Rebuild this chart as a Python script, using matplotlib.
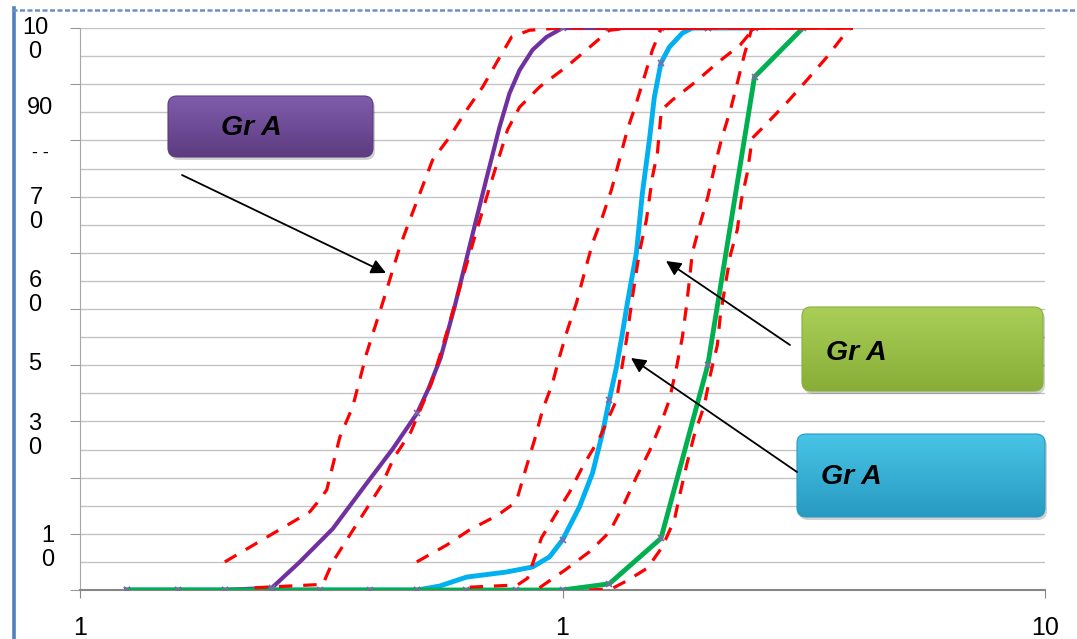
import numpy as np
import matplotlib
matplotlib.use("Agg")
import matplotlib.pyplot as plt
from matplotlib.patches import FancyBboxPatch
from matplotlib.ticker import MultipleLocator, NullLocator
from matplotlib.lines import Line2D

plt.rcParams["font.family"] = ["Liberation Sans", "DejaVu Sans"]

# ---- sieve openings (mm) ----
SIEVES = [0.125, 0.16, 0.2, 0.25, 0.315, 0.4, 0.5, 0.63, 0.8, 1.0, 1.25, 1.6, 2.0, 2.5, 3.15]

# ---- grading curves, % passing ----
purple_x = [0.125, 0.16, 0.2, 0.25, 0.2855, 0.3341, 0.3929, 0.4447, 0.5, 0.528, 0.5589,
            0.5976, 0.6511, 0.6961, 0.7406, 0.7767, 0.8147, 0.8667, 0.9266, 1.0,
            1.25, 1.6, 2.0]
purple_y = [0, 0, 0, 0.4, 5.0, 10.9, 19.0, 25.1, 31.5, 35.9, 41.3,
            50.4, 63.3, 73.3, 82.4, 88.4, 92.5, 96.1, 98.4, 100,
            100, 100, 100]

cyan_x = [0.125, 0.5, 0.5563, 0.6329, 0.7658, 0.8667, 0.9399, 1.0, 1.0844, 1.154, 1.21,
          1.25, 1.294, 1.331, 1.363, 1.423, 1.464, 1.514, 1.55, 1.6, 1.665, 1.772, 1.858,
          2.0, 2.5]
cyan_y = [0, 0, 0.7, 2.3, 3.2, 4.1, 5.9, 8.9, 14.8, 20.8, 27.9,
          33.8, 39.7, 45.7, 51.1, 60.0, 70.6, 80.1, 87.7, 93.8, 96.6, 99.1, 100,
          100, 100]

green_x = SIEVES
green_y = [0, 0, 0, 0, 0, 0, 0, 0, 0, 0, 1.1, 9.2, 40.0, 91.3, 100]

# ---- limit envelopes (red dashed) ----
lim_a_x = [0.1996, 0.2994, 0.310, 0.3246, 0.3455, 0.3674, 0.3929, 0.4239, 0.4599, 0.4823,
           0.5378, 0.5834, 0.6329, 0.6831, 0.7297, 0.7843, 0.8545, 0.986, 4.0]
lim_a_y = [5.0, 13.9, 15.5, 17.8, 27.2, 32.6, 42.2, 51.1, 61.0, 65.8,
           76.5, 80.6, 85.4, 89.5, 93.8, 98.4, 99.6, 100, 100]

lim_b_x = [0.2302, 0.3186, 0.3340, 0.3625, 0.3889, 0.4221, 0.4470, 0.4848, 0.5353, 0.5780,
           0.5976, 0.6484, 0.7064, 0.7694, 0.8145, 0.8961, 1.019, 1.121, 1.251, 1.376, 4.0]
lim_b_y = [0.4, 1.0, 5.0, 9.8, 13.9, 18.7, 23.5, 28.1, 36.8, 46.3,
           50.7, 61.0, 71.7, 81.9, 85.9, 89.5, 93.1, 96.1, 99.6, 100, 100]

lim_c_x = [0.4989, 0.5755, 0.6420, 0.7337, 0.7843, 0.8069, 0.8383, 0.8750, 0.9091, 0.9535,
           0.9858, 1.024, 1.069, 1.110, 1.154, 1.210, 1.263, 1.312, 1.363, 1.423, 1.478,
           1.536, 1.603, 4.0]
lim_c_y = [5.0, 8.0, 10.7, 13.3, 15.1, 16.5, 21.4, 26.7, 32.0, 36.8,
           41.5, 46.3, 51.1, 56.4, 61.7, 66.4, 71.2, 76.5, 81.9, 86.7, 91.3,
           96.1, 100, 100]

lim_d_x = [0.642, 0.807, 0.8465, 0.9049, 0.9718, 1.034, 1.105, 1.193, 1.294, 1.357, 1.396,
           1.443, 1.492, 1.536, 1.573, 1.603, 1.690, 1.886, 2.094, 2.336, 2.474, 2.557, 4.0]
lim_d_y = [0.5, 0.9, 2.1, 9.3, 13.7, 17.4, 22.2, 27.0, 33.8, 44.5, 52.1,
           60.0, 65.8, 73.5, 77.8, 85.4, 87.2, 90.4, 93.8, 97.0, 99.6, 100, 100]

lim_e_x = [0.896, 1.014, 1.137, 1.251, 1.338, 1.423, 1.514, 1.596, 1.665, 1.722, 1.772,
           1.806, 1.833, 1.858, 1.931, 2.0, 2.064, 2.134, 2.228, 2.303, 2.381, 2.462, 2.51, 4.0]
lim_e_y = [0.4, 3.6, 6.8, 10.3, 15.1, 20.1, 24.7, 29.4, 33.8, 39.5, 45.0,
           50.4, 55.2, 60.0, 65.3, 69.9, 75.1, 80.1, 85.4, 90.2, 95.2, 99.6, 100, 100]

lim_f_x = [1.137, 1.263, 1.357, 1.5, 1.611, 1.706, 1.755, 1.815, 1.876, 1.968, 2.025,
           2.094, 2.124, 2.228, 2.303, 2.348, 2.415, 2.474, 2.657, 2.923, 3.185, 3.521,
           3.836, 3.966, 4.0]
lim_f_y = [0, 0.2, 1.6, 3.9, 7.7, 12.5, 17.4, 22.8, 27.6, 32.9, 38.3,
           43.6, 48.9, 59.6, 64.1, 69.4, 74.2, 80.4, 83.1, 86.8, 90.4, 94.7,
           98.8, 100, 100]

# ---- axis labels ----
XTICKS = [0.1, 1, 10]
XTICK_TEXT = ["1", "1", "10"]
YLABEL_TEXT = ["10\n0", "90", "- -", "7\n0", "6\n0", "5", "3\n0", "1\n0"]
YLABEL_AT = [97.9, 85.8, 77.6, 67.6, 52.8, 40.2, 27.4, 7.5]
YLABEL_XPX = [35, 40, 40, 36, 35, 35, 35, 48]

# ---- callouts ----
BOX_TEXT = "Gr A"

W, H = 1077, 639
fig = plt.figure(figsize=(W / 100, H / 100), dpi=100)
L, R, T, B = 80, 1045, 28, 590
ax = fig.add_axes([L / W, (H - B) / H, (R - L) / W, (B - T) / H])

ax.set_xscale("log")
ax.set_xlim(0.1, 10)
ax.set_ylim(0, 100)

# horizontal grid every 5 %, ticks every 10 %
ax.yaxis.set_major_locator(MultipleLocator(10))
ax.yaxis.set_minor_locator(MultipleLocator(5))
ax.grid(True, axis="y", which="both", color="#c4c4c4", lw=1.0)
ax.tick_params(axis="y", which="major", length=7, color="#999999", labelleft=False)
ax.tick_params(axis="y", which="minor", length=0)
ax.set_xticks(XTICKS, XTICK_TEXT)
ax.xaxis.set_minor_locator(NullLocator())
ax.tick_params(axis="x", length=6, color="#888888", labelsize=18, pad=13)
for s in ("top", "right"):
    ax.spines[s].set_visible(False)
ax.spines["left"].set_color("#a6a6a6")
ax.spines["bottom"].set_color("#868686")
ax.spines["bottom"].set_linewidth(1.5)
ax.set_axisbelow(True)

yl_trans = ax.get_yaxis_transform()
for txt, yv, xp in zip(YLABEL_TEXT, YLABEL_AT, YLABEL_XPX):
    fs = 13 if txt == "- -" else 17
    ax.text((xp - L) / (R - L), yv, txt, transform=yl_trans, ha="center", va="center",
            fontsize=fs, linespacing=1.12, clip_on=False)


def marks_on_sieves(xs):
    return [i for i, v in enumerate(xs) if np.any(np.isclose(v, SIEVES, rtol=1e-3))]


mk = dict(marker="x", ms=5, mew=1.2, mec="#7e6aa6")
ax.plot(cyan_x, cyan_y, color="#00b0f0", lw=3.5, solid_joinstyle="round",
        markevery=marks_on_sieves(cyan_x), zorder=3, **mk)
ax.plot(purple_x, purple_y, color="#7030a0", lw=3.0, solid_joinstyle="round",
        markevery=marks_on_sieves(purple_x), zorder=4, **mk)
ax.plot(green_x, green_y, color="#00b050", lw=3.5, zorder=5, **mk)

for lx, ly in [(lim_a_x, lim_a_y), (lim_b_x, lim_b_y), (lim_c_x, lim_c_y),
               (lim_d_x, lim_d_y), (lim_e_x, lim_e_y), (lim_f_x, lim_f_y)]:
    ax.plot(lx, ly, color="#ff0000", lw=2.3, ls=(0, (4.2, 3.4)), zorder=6)

# ---- overlay in pixel coordinates: frame, callout boxes, arrows ----
ov = fig.add_axes([0, 0, 1, 1], zorder=10)
ov.set_xlim(0, W)
ov.set_ylim(H, 0)
ov.axis("off")
ov.patch.set_alpha(0)

ov.add_line(Line2D([13.5, 13.5], [8, H], color="#4f81bd", lw=2.6))
ov.add_line(Line2D([12, W], [9.5, 9.5], color="#6d8fc4", lw=1.8, ls=(0, (2, 1))))


def callout(x0, y0, x1, y1, top, bottom, tx, ty):
    shadow = FancyBboxPatch((x0 + 2, y0 + 3), x1 - x0, y1 - y0,
                            boxstyle="round,pad=0,rounding_size=9",
                            fc="#000000", ec="none", alpha=0.18)
    ov.add_patch(shadow)
    box = FancyBboxPatch((x0, y0), x1 - x0, y1 - y0,
                         boxstyle="round,pad=0,rounding_size=9",
                         fc="none", ec=np.array(bottom) / 255, lw=0.8)
    ov.add_patch(box)
    t = np.linspace(0, 1, 64)[:, None]
    grad = (np.array(top)[None, :] * (1 - t) + np.array(bottom)[None, :] * t) / 255
    im = ov.imshow(grad[:, None, :].repeat(2, axis=1), extent=(x0, x1, y1, y0),
                   aspect="auto", interpolation="bilinear", zorder=1)
    im.set_clip_path(box)
    box.set_zorder(2)
    ov.text(tx, ty, BOX_TEXT, fontsize=20.5, fontweight="bold", fontstyle="italic",
            ha="left", va="center", zorder=3)


callout(168, 96, 373, 157, (128, 92, 172), (92, 60, 128), 221, 128)
callout(802, 307, 1043, 391, (170, 207, 88), (136, 174, 56), 826, 353)
callout(797, 434, 1045, 517, (72, 196, 230), (40, 154, 194), 821, 477)

ap = dict(arrowstyle="-|>", color="black", lw=1.3, mutation_scale=22, shrinkA=0, shrinkB=0)
ov.annotate("", xy=(386, 273), xytext=(182, 175), arrowprops=ap)
ov.annotate("", xy=(666, 261), xytext=(790, 345), arrowprops=ap)
ov.annotate("", xy=(631, 358), xytext=(797, 472), arrowprops=ap)

ov.set_xlim(0, W)
ov.set_ylim(H, 0)

fig.savefig("out.png", dpi=100)
